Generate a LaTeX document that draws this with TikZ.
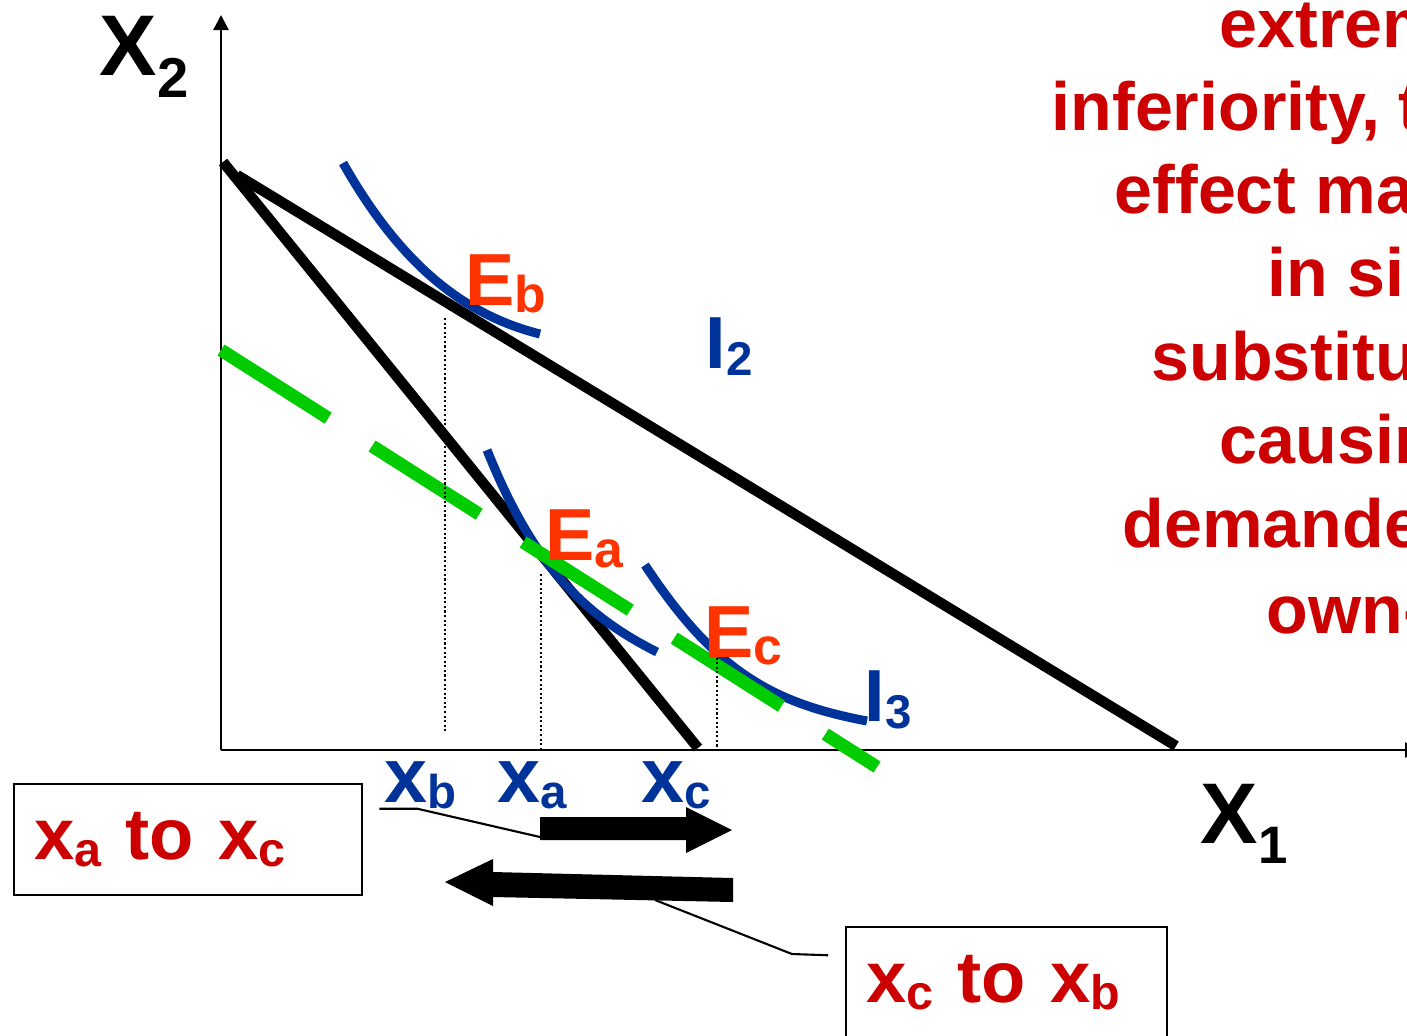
\documentclass[tikz,border=0pt]{standalone}
\usepackage{fontspec}
\setmainfont{Liberation Sans}
\usepackage{xcolor}
\usepackage{tikz}
\usetikzlibrary{arrows.meta, positioning}
\definecolor{txtred}{RGB}{204,0,0}
\definecolor{eqred}{RGB}{255,51,0}
\definecolor{icblue}{RGB}{0,51,153}
\definecolor{cmpgreen}{RGB}{0,204,0}
\newcommand{\lowsub}[3]{\raisebox{#1}{\fontsize{#2}{#2}\selectfont #3}}
\tikzset{
  axis/.style={line width=0.7pt, -{Triangle[length=0.15cm, width=0.15cm]}},
  budget/.style={line width=1.05mm, black},
  indiff/.style={line width=0.9mm, color=icblue},
  comp/.style={line width=1.3mm, color=cmpgreen, dash pattern=on 1.27cm off 0.52cm},
  guide/.style={line width=0.6pt, dash pattern=on 0.6pt off 0.7pt},
  axlabel/.style={inner sep=0, anchor=base west, font=\fontsize{24.5}{24.5}\selectfont\bfseries},
  eqlabel/.style={inner sep=0, anchor=base west, text=eqred, font=\fontsize{21}{21}\selectfont\bfseries},
  iclabel/.style={inner sep=0, anchor=base west, text=icblue, font=\fontsize{21}{21}\selectfont\bfseries},
  qlabel/.style={inner sep=0, anchor=base west, text=icblue, font=\fontsize{22}{22}\selectfont\bfseries},
  note/.style={inner sep=0, anchor=base west, text=txtred, font=\fontsize{19.4}{19.4}\selectfont\bfseries},
  notebox/.style={draw, line width=0.7pt, anchor=north west, minimum height=1.11cm,
    inner xsep=0.2cm, inner ysep=0, align=left, text=txtred,
    font=\fontsize{20.6}{20.6}\selectfont\bfseries},
  callout/.style={line width=0.6pt},
  blockarrow/.style={fill=black}
}
\begin{document}
\begin{tikzpicture}
  \useasboundingbox (0,0) rectangle (14.07,10.35);

  % axes
  \coordinate (O) at (2.21,2.85);
  \draw[axis] (O) -- (2.21,10.20);
  \draw[axis] (O) -- (14.20,2.85);
  \node[axlabel] (x2lab) at (0.99,9.60) {X\lowsub{-0.22cm}{16}{2}};
  \node[axlabel] (x1lab) at (12.00,1.92) {X\lowsub{-0.20cm}{15}{1}};

  % budget lines
  \draw[budget] (2.23,8.73) -- (6.98,2.87);
  \draw[budget] (2.37,8.60) -- (11.76,2.89);

  % indifference curves
  \draw[indiff] (3.43,8.72) .. controls (3.98,7.75) and (4.60,7.21) .. (5.40,7.01);
  \draw[indiff] (4.87,5.85) .. controls (5.32,4.725) and (5.82,4.205) .. (6.57,3.83);
  \draw[indiff] (6.45,4.70) .. controls (7.15,3.636) and (7.72,3.32) .. (8.67,3.14);

  % compensated budget line
  \draw[comp] (2.21,6.85) -- (8.77,2.68);

  % drop lines to the axis
  \draw[guide] (4.45,7.17) -- (4.45,3.03);
  \draw[guide] (5.41,4.61) -- (5.41,2.87);
  \draw[guide] (7.17,3.82) -- (7.17,2.87);

  % equilibrium and curve labels
  \node[eqlabel] (eb) at (4.65,7.30) {E\lowsub{-0.07cm}{14.7}{b}};
  \node[eqlabel] (ea) at (5.45,4.75) {E\lowsub{-0.07cm}{14.7}{a}};
  \node[eqlabel] (ec) at (7.04,3.78) {E\lowsub{-0.07cm}{14.7}{c}};
  \node[iclabel] (i2) at (7.05,6.67) {I\lowsub{-0.07cm}{13.5}{2}};
  \node[iclabel] (i3) at (8.64,3.14) {I\lowsub{-0.07cm}{13.5}{3}};

  % quantities on the X1 axis
  \node[qlabel] (xb) at (3.84,2.33) {x\lowsub{-0.06cm}{13.5}{b}};
  \node[qlabel] (xa) at (4.97,2.33) {x\lowsub{-0.06cm}{13.5}{a}};
  \node[qlabel] (xc) at (6.41,2.33) {x\lowsub{-0.06cm}{13.5}{c}};

  % text on the right, cut by the page edge
  \node[note] (n1) at (12.19,9.88) {extrem};
  \node[note] (n2) at (10.51,9.045) {inferiority, t};
  \node[note] (n3) at (11.14,8.22) {effect ma};
  \node[note] (n4) at (12.67,7.39) {in si};
  \node[note] (n5) at (11.51,6.55) {substitu};
  \node[note] (n6) at (12.19,5.715) {causin};
  \node[note] (n7) at (11.22,4.88) {demande};
  \node[note] (n8) at (12.66,4.02) {own-};

  % boxes
  \node[notebox, text width=3.08cm] (boxac) at (0.13,2.52)
    {x\lowsub{-0.07cm}{13.8}{a} to x\lowsub{-0.07cm}{13.8}{c}};
  \node[notebox, text width=2.81cm] (boxcb) at (8.45,1.09)
    {x\lowsub{-0.07cm}{13.8}{c} to x\lowsub{-0.07cm}{13.8}{b}};

  % block arrows
  \fill[blockarrow] (5.40,2.18) -- (6.86,2.18) -- (6.86,2.28) -- (7.32,2.05)
    -- (6.86,1.82) -- (6.86,1.95) -- (5.40,1.95) -- cycle;
  \fill[blockarrow] (7.33,1.57) -- (4.93,1.63) -- (4.93,1.76) -- (4.45,1.53)
    -- (4.93,1.29) -- (4.93,1.38) -- (7.33,1.33) -- cycle;
  \coordinate (rtail) at (5.40,1.98);
  \coordinate (lshaft) at (6.55,1.35);

  % callouts
  \draw[callout] ([xshift=0.16cm, yshift=0.31cm]boxac.east) -- ++(0.38,0) -- (rtail);
  \draw[callout] (lshaft) -- ++(1.37,-0.54) -- ([xshift=-0.17cm, yshift=0.275cm]boxcb.west);
\end{tikzpicture}
\end{document}
